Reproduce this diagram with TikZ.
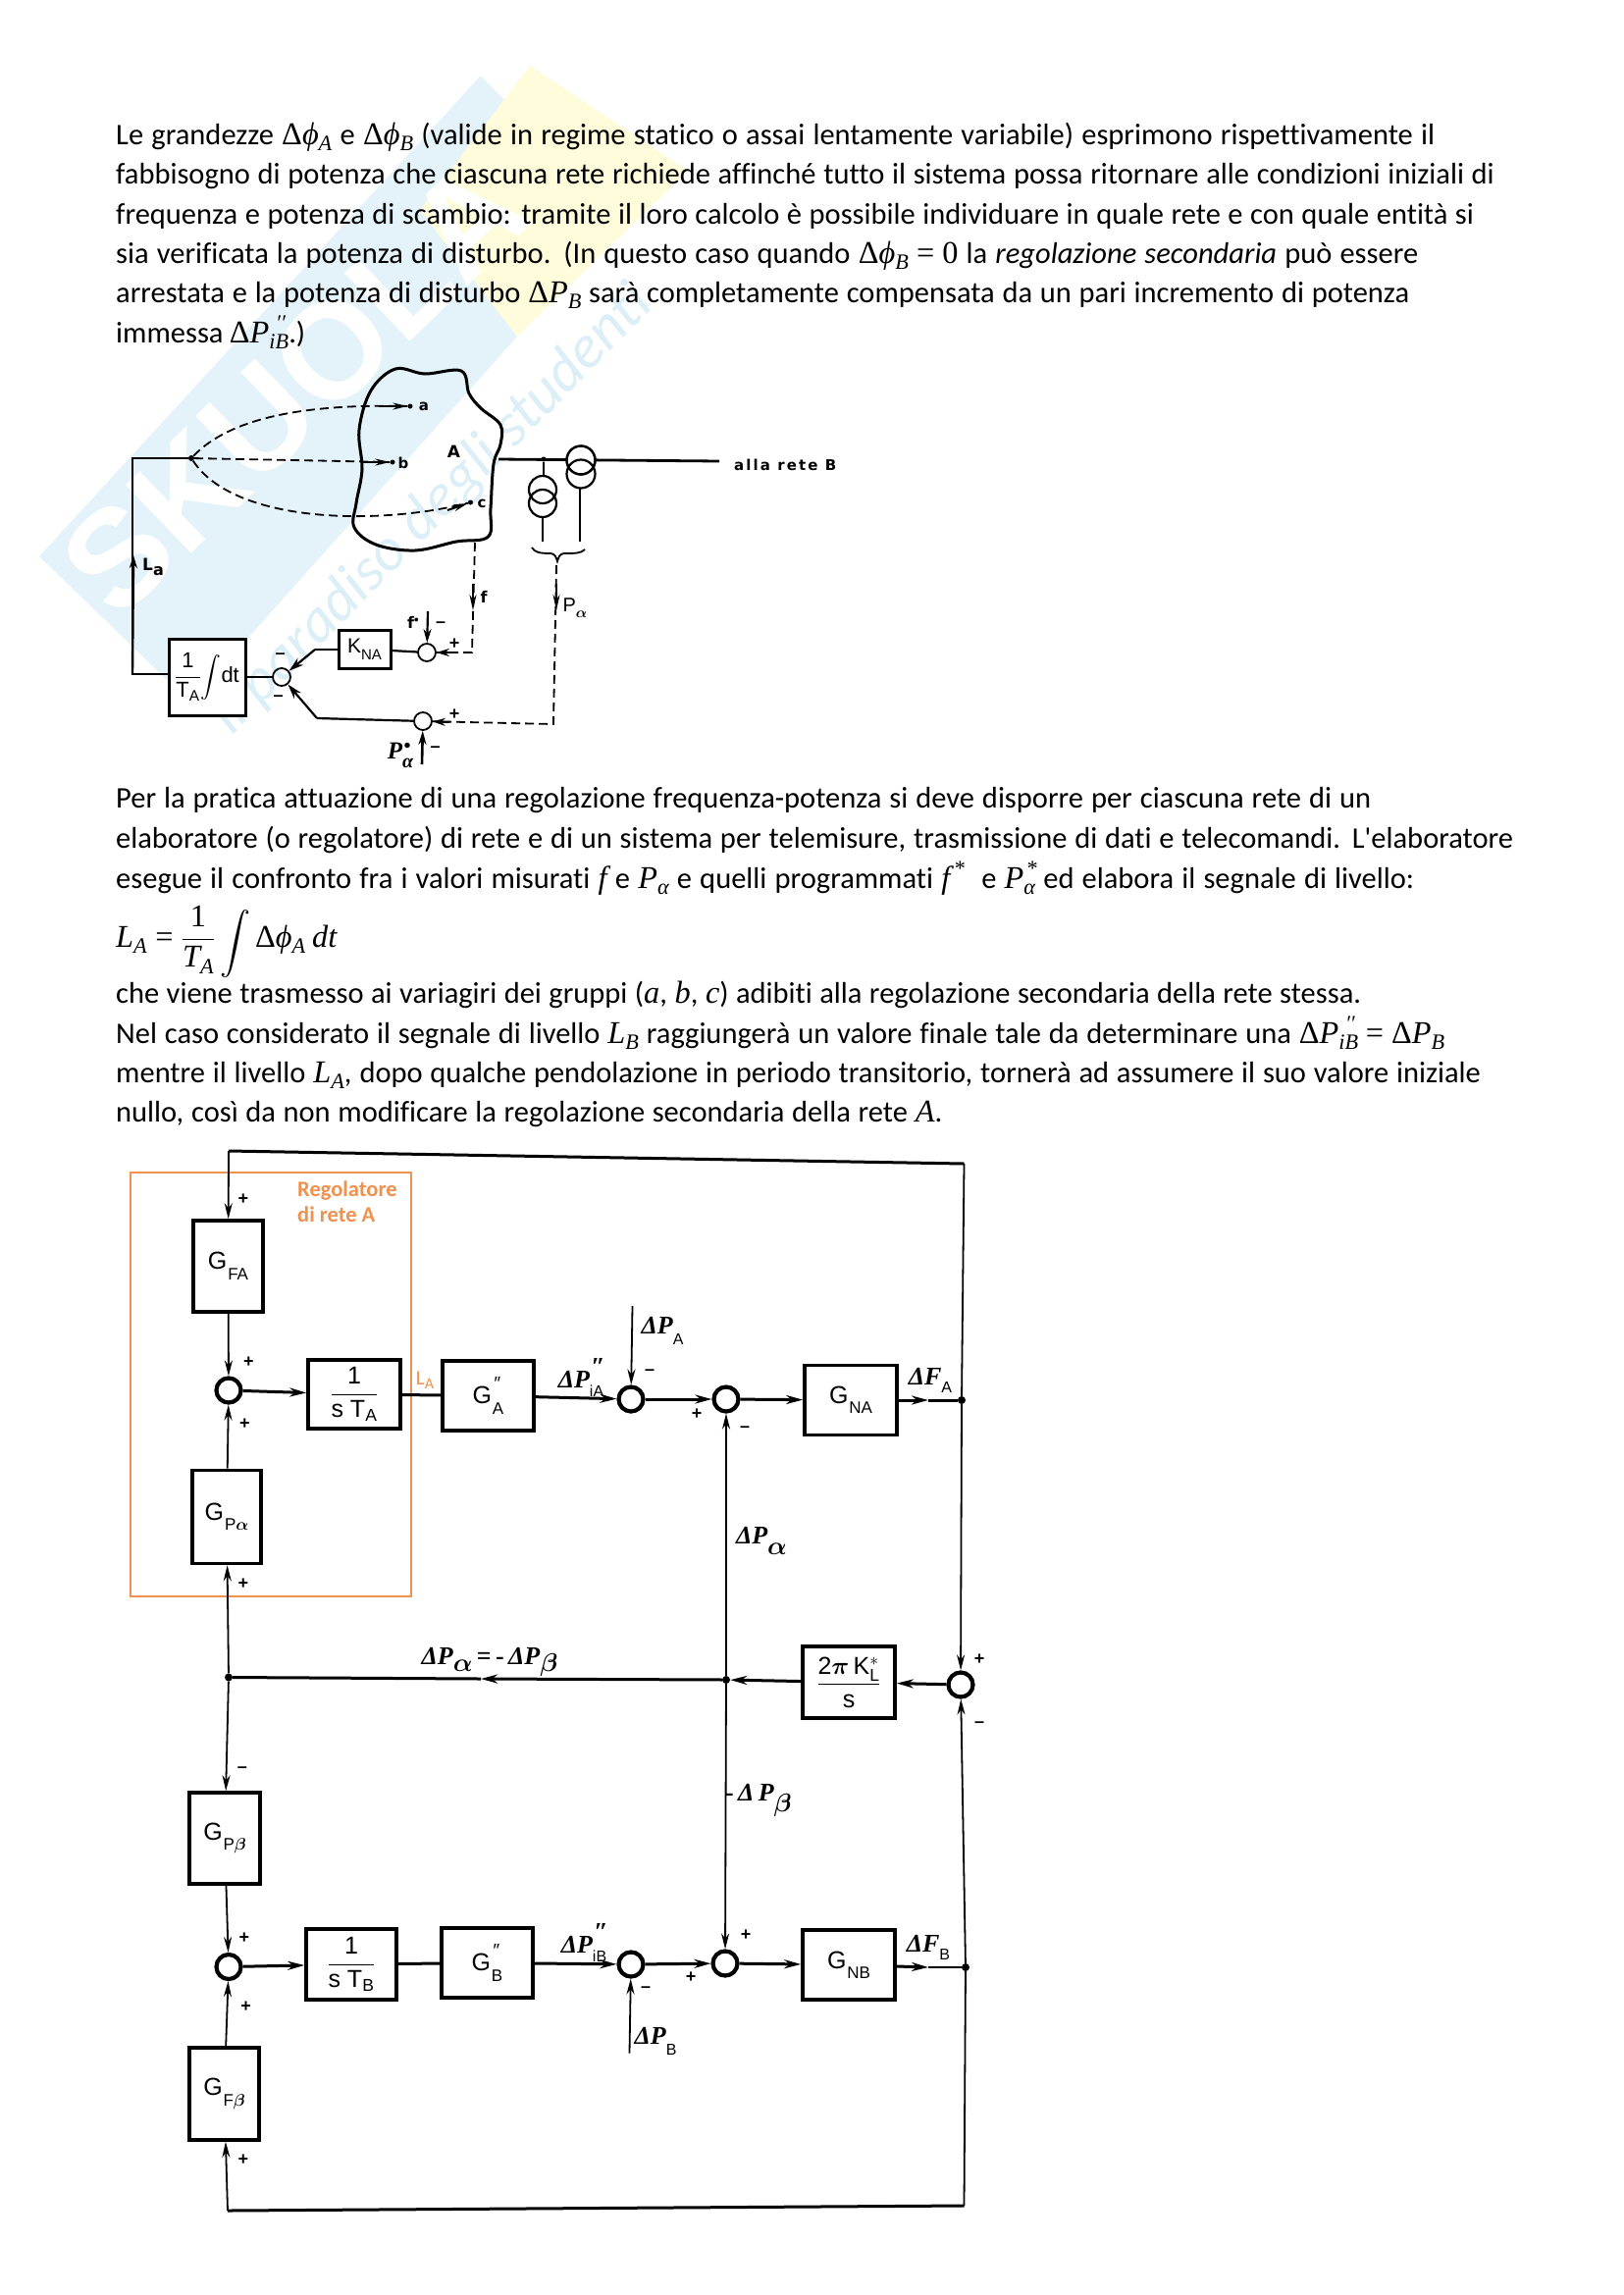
\documentclass[tikz,border=0pt]{standalone}
\usepackage{fix-cm}
\usepackage{amsmath}
\usepackage{graphicx}
\usepackage{fontspec}
\setmainfont{Carlito}[Ligatures={NoCommon,TeXOff}]
\setsansfont{Liberation Sans}
\newfontfamily\dgA{DejaVu Sans}
\newfontfamily\dsB{Liberation Serif}
\newfontfamily\mf{Liberation Serif}[Scale=1.06]
\usetikzlibrary{arrows.meta,calc}
\definecolor{wmblue}{HTML}{E3F3F9}
\definecolor{wmtext}{HTML}{DCEFF7}
\definecolor{wmyellow}{HTML}{FFFCDC}
\definecolor{orng}{HTML}{F0914F}
\newcommand{\bl}[2]{\makebox[#1pt][s]{#2}}
\newcommand{\mi}[1]{{\mf\itshape #1}}
\newcommand{\sbs}[1]{\raisebox{-.22em}{\fontsize{21}{21}\selectfont\mf\itshape #1}}
\newcommand{\Dt}{{\mf Δ}}
\newcommand{\Dphi}[1]{\Dt\mi{ϕ}\sbs{#1}}
\newcommand{\DPb}[1]{\Dt\mi{P}\sbs{#1}}
\newcommand{\DPpp}{\Dt\mi{P}\rlap{\raisebox{.42em}{\fontsize{21}{21}\selectfont\mf\itshape\hspace{.3em}′′}}\sbs{iB}}
\newcommand{\Pal}[1]{\mi{P}\rlap{\raisebox{.42em}{\fontsize{21}{21}\selectfont\mf\itshape\hspace{.1em}#1}}\sbs{α}}
\newcommand{\dP}[2]{{\dsB\bfseries\itshape #1}\raisebox{-.42em}{\fontsize{16}{16}\selectfont\sffamily #2}}
\newcommand{\dPpp}[2]{{\dsB\bfseries\itshape #1}\rlap{\raisebox{.5em}{\dsB\bfseries\itshape\hspace{.05em}″}}\raisebox{-.38em}{\fontsize{16}{16}\selectfont\sffamily #2}}
\newcommand{\gb}[1]{G\raisebox{-.42em}{\fontsize{17}{17}\selectfont\hspace{.05em}#1}}
\newcommand{\gpp}[1]{G\rlap{\raisebox{.55em}{\fontsize{19}{19}\selectfont\hspace{.08em}\itshape″}}\raisebox{-.42em}{\fontsize{17}{17}\selectfont\hspace{.05em}#1}}
\tikzset{
  x=1pt,y=-1pt,
  txt/.style={anchor=base west,inner sep=0pt,font=\fontsize{30.5}{40}\selectfont},
  bx/.style={draw,line width=3.6pt,fill=white,inner sep=0pt,font=\sffamily\fontsize{25}{27}\selectfont},
  smallbx/.style={draw,line width=3pt,fill=white,inner sep=0pt,font=\sffamily\fontsize{22}{24}\selectfont},
  sumc/.style={draw,circle,line width=4.2pt,minimum size=25pt,inner sep=0pt,fill=white},
  smalls/.style={draw,circle,line width=1.8pt,minimum size=18pt,inner sep=0pt},
  jd/.style={fill,circle,inner sep=0pt,minimum size=8pt},
  ln/.style={line width=1.8pt},
  hv/.style={line width=3pt},
  ar/.style={line width=1.8pt,-{Stealth[length=16pt,width=8pt]}},
  arh/.style={line width=3pt,-{Stealth[length=17pt,width=9pt]}},
  dsh/.style={line width=1.8pt,dash pattern=on 9pt off 5pt},
  sgn/.style={inner sep=0pt,font=\bfseries\sffamily\fontsize{18}{18}\selectfont},
  lab/.style={inner sep=0pt,font=\fontsize{26}{28}\selectfont},
  labA/.style={inner sep=0pt,font=\dgA\bfseries\fontsize{15}{18}\selectfont},
}
\begin{document}
\begin{tikzpicture}
\useasboundingbox (0,0) rectangle (1654,2339);
\fill[white] (0,0) rectangle (1654,2339);
% watermark
\fill[wmblue] (40,567) -- (490,77) -- (565,155) -- (527,343) -- (194,716) -- cycle;
\fill[wmyellow] (540,67) -- (701,174) -- (527,343) -- (428,214) -- cycle;
\node[rotate=44,text=white,inner sep=0pt,font=\sffamily\bfseries\fontsize{140}{140}\selectfont] (wm1) at (300,395) {SKUOLA};
\node[rotate=45.5,text=wmtext,inner sep=0pt,font=\itshape\fontsize{62}{62}\selectfont] (wm2) at (440,520) {il paradiso degli studenti};
% text
\node[txt] (t1) at (118,147) {\bl{1344}{Le grandezze \Dphi{A} e \Dphi{B} (valide in regime statico o assai lentamente variabile) esprimono rispettivamente il}};
\node[txt] (t2) at (118,187) {\bl{1405}{fabbisogno di potenza che ciascuna rete richiede affinché tutto il sistema possa ritornare alle condizioni iniziali di}};
\node[txt] (t3) at (118,228) {\bl{1384}{frequenza e potenza di scambio: tramite il loro calcolo è possibile individuare in quale rete e con quale entità si}};
\node[txt] (t4) at (118,268) {\bl{1327}{sia verificata la potenza di disturbo. (In questo caso quando \Dphi{B} {\mf =} {\mf 0} la \textit{regolazione secondaria} può essere}};
\node[txt] (t5) at (118,308) {\bl{1318}{arrestata e la potenza di disturbo \DPb{B} sarà completamente compensata da un pari incremento di potenza}};
\node[txt] (t6) at (118,349) {\bl{193}{immessa \DPpp.)}};
\node[txt] (t7) at (118,823) {\bl{1279}{Per la pratica attuazione di una regolazione frequenza-potenza si deve disporre per ciascuna rete di un}};
\node[txt] (t8) at (118,864) {\bl{1424}{elaboratore (o regolatore) di rete e di un sistema per telemisure, trasmissione di dati e telecomandi. L'elaboratore}};
\node[txt] (t9) at (118,905) {\bl{1323}{esegue il confronto fra i valori misurati \mi{f} e \mi{P}\sbs{α} e quelli programmati \mi{f}\raisebox{.42em}{\fontsize{21}{21}\selectfont\mf\hspace{.2em}*} \ e \Pal{*} ed elabora il segnale di livello:}};
\node[txt] (t10) at (118,965) {$\mbox{\mi{L}\sbs{A}}\;\mbox{\mf =}\;\dfrac{\mbox{\mf 1}}{\mbox{\mi{T}\sbs{A}}}\,\raisebox{-.22em}{\scalebox{1.25}{$\displaystyle\int$}}\,\mbox{\Dphi{A} \mi{dt}}$};
\node[txt] (t11) at (118,1022) {\bl{1269}{che viene trasmesso ai variagiri dei gruppi (\mi{a}, \mi{b}, \mi{c}) adibiti alla regolazione secondaria della rete stessa.}};
\node[txt] (t12) at (118,1063) {\bl{1354}{Nel caso considerato il segnale di livello \mi{L}\sbs{B} raggiungerà un valore finale tale da determinare una \DPpp\ {\mf =} \DPb{B}}};
\node[txt] (t13) at (118,1103) {\bl{1391}{mentre il livello \mi{L}\sbs{A}, dopo qualche pendolazione in periodo transitorio, tornerà ad assumere il suo valore iniziale}};
\node[txt] (t14) at (118,1143) {\bl{842}{nullo, così da non modificare la regolazione secondaria della rete \mi{A}.}};
% ---- diagram 1
\draw[line width=3pt,line join=round] plot[smooth cycle,tension=.6] coordinates {(403,376)(433,381)(470,378)(478,401)(490,416)(510,433)(510,453)(503,473)(500,518)(497.5,547)(465,552)(423,561)(383,555)(361,537.5)(363,513)(369,478)(366,438)(378,398)};
\node[smallbx,minimum width=78pt,minimum height=78pt] (tab) at (211,690) {$\displaystyle\frac{\mathsf{1}}{\mathsf{T}_{\mathsf{A}}}\!\int\!\mathsf{dt}$};
\node[smallbx,minimum width=53pt,minimum height=39pt,font=\sffamily\fontsize{21}{22}\selectfont] (kna) at (371.5,661.5) {K\raisebox{-.35em}{\fontsize{15}{15}\selectfont NA}};
\node[smalls] (cs) at (287,690) {};
\node[smalls] (cf) at (435,665) {};
\node[smalls] (cp) at (431,735) {};
\node[jd,minimum size=6pt] (dD) at (195,467) {};
\node[jd,minimum size=5pt] (da) at (418,414) {};
\node[jd,minimum size=5pt] (db) at (400,471) {};
\node[jd,minimum size=5pt] (dc) at (479.5,512) {};
\node[jd,minimum size=5pt] (dT) at (554,468) {};
\coordinate (cL1) at (135,687);
\coordinate (cL2) at (135,467);
\coordinate (cLa) at (136,566);
\coordinate (bxE) at (508,468);
\coordinate (bxF) at (733,470);
\draw[line width=2.4pt] (tab.west |- 0,687) -- (cL1) -- (cL2) -- (dD);
\draw[line width=2.4pt,-{Stealth[length=13pt,width=8pt]}] (cL1) -- (cLa);
\draw[dsh] (dD) .. controls (240,420) and (330,412) .. (da);
\draw[dsh] (dD) -- (db);
\draw[dsh] (dD) .. controls (240,535) and (390,535) .. (dc);
\draw[line width=2pt,-{Stealth[length=15pt,width=7pt]}] (386,414) -- (da);
\draw[line width=2pt,-{Stealth[length=15pt,width=7pt]}] (370,471) -- (db);
\draw[line width=2pt,-{Stealth[length=15pt,width=7pt]}] (456,520) -- (dc);
\node[labA] (la) at (432,414) {a};
\node[labA] (lb) at (411,472) {b};
\node[labA] (lc) at (491,513) {c};
\node[labA,font=\dgA\bfseries\fontsize{17}{20}\selectfont] (lA) at (462.5,460) {A};
\draw[line width=2.8pt] (bxE) -- (bxF);
\node[labA,anchor=west,font=\dgA\bfseries\fontsize{15}{18}\selectfont] (lB) at (748,474) {\addfontfeature{LetterSpace=14}alla rete B};
% transformers
\coordinate (t1a) at (553,499); \coordinate (t1b) at (553,513);
\coordinate (t2a) at (592,469); \coordinate (t2b) at (592,483);
\draw[line width=2.2pt] (t1a) circle[radius=14pt] (t1b) circle[radius=14pt];
\draw[line width=2.2pt,fill=white] (t2a) circle[radius=14.5pt];
\draw[line width=2.2pt] (t2a) circle[radius=14.5pt] (t2b) circle[radius=14.5pt];
\coordinate (t1t) at (554,485); \coordinate (t1d) at (553,527); \coordinate (t1e) at (553,552);
\coordinate (t2d) at (591,497); \coordinate (t2e) at (591,552);
\draw[line width=2pt] (dT) -- (t1t) (t1d) -- (t1e) (t2d) -- (t2e);
\draw[line width=1.8pt] (542,558) .. controls (545,563) and (550,564) .. (561,564) .. controls (565,564) and (567,568) .. (568,572) .. controls (569,568) and (571,564) .. (575,564) .. controls (586,564) and (592,564) .. (596,560);
% dashed signals
\coordinate (fT) at (484,553); \coordinate (fC) at (481,665); \coordinate (fM) at (482,622);
\coordinate (pT) at (567,576); \coordinate (pC) at (564,738); \coordinate (pM) at (567,622);
\draw[dsh] (fT) -- (fC) -- (cf);
\draw[dsh] (pT) -- (pC) -- (cp);
\draw[line width=2.2pt,-{Stealth[length=16pt,width=7pt]}] (482,595) -- (fM);
\draw[line width=2.2pt,-{Stealth[length=16pt,width=7pt]}] (567,595) -- (pM);
\draw[line width=2pt,-{Stealth[length=13pt,width=8pt]}] (462,665) -- (cf);
\draw[line width=2pt,-{Stealth[length=13pt,width=8pt]}] (458,736) -- (cp);
\node[labA,font=\dgA\bfseries\fontsize{16}{18}\selectfont] (lf) at (493,608) {f};
\node[labA,font=\sffamily\fontsize{20}{22}\selectfont] (lp) at (586,620) {P\raisebox{-.3em}{\fontsize{15}{15}\selectfont$\boldsymbol{\alpha}$}};
\draw[line width=2.2pt] (cf) -- (kna);
\draw[line width=2.4pt] (tab) -- (cs);
\coordinate (kk) at (321,662); \coordinate (pp) at (323,732);
\draw[line width=2.2pt] (kna.west |- kk) -- (kk);
\draw[line width=2.2pt,-{Stealth[length=15pt,width=9pt]}] (kk) -- (cs);
\draw[line width=2.2pt] (cp) -- (pp);
\draw[line width=2.2pt,-{Stealth[length=15pt,width=9pt]}] (pp) -- (cs);
\coordinate (fs) at (436,623); \coordinate (ps) at (430,779);
\draw[line width=2.2pt,-{Stealth[length=14pt,width=8pt]}] (fs) -- (cf);
\draw[line width=2.6pt,-{Stealth[length=14pt,width=8pt]}] (ps) -- (cp);
\node[labA,font=\dgA\bfseries\fontsize{16}{18}\selectfont] (lfs) at (421,634) {f\raisebox{.35em}{\fontsize{10}{10}\selectfont$\bullet$}};
\node[inner sep=0pt,font=\dsB\bfseries\itshape\fontsize{25}{25}\selectfont] (lps) at (408,770) {P\rlap{\raisebox{.4em}{\fontsize{14}{14}\selectfont\hspace{.1em}$\bullet$}}\raisebox{-.35em}{\fontsize{20}{20}\selectfont α}};
\node[sgn] (s1) at (449,637) {–};
\node[sgn] (s2) at (463,656) {+};
\node[sgn] (s3) at (443.5,764) {–};
\node[sgn] (s4) at (463,728) {+};
\node[sgn] (s5) at (285.6,669) {–};
\node[sgn] (s6) at (283.6,712) {–};
\node[labA,font=\dgA\bfseries\fontsize{17}{20}\selectfont] (lLa) at (156,578) {L\raisebox{-.3em}{\fontsize{16}{16}\selectfont a}};
% ---- diagram 2
\coordinate (TL) at (233,1173);
\coordinate (TR) at (982.5,1186);
\coordinate (BR) at (982.5,2248);
\coordinate (BL) at (232,2253);
\draw[orng,line width=2.2pt] (133,1195) rectangle (419,1627);
\node[inner sep=0pt,anchor=base west,text=orng,font=\bfseries\fontsize{22.5}{23}\selectfont] (reg1) at (303,1219) {Regolatore};
\node[inner sep=0pt,anchor=base west,text=orng,font=\bfseries\fontsize{22.5}{23}\selectfont] (reg2) at (303,1245) {di rete A};
\node[inner sep=0pt,text=orng,font=\fontsize{21}{21}\selectfont] (regL) at (433,1407) {L\raisebox{-.2em}{\fontsize{16}{16}\selectfont A}};
\node[bx,minimum width=71pt,minimum height=93pt] (GFA) at (232.5,1290.5) {\gb{FA}};
\node[bx,minimum width=70pt,minimum height=95pt] (GPa) at (231,1546) {\gb{P$\boldsymbol{\alpha}$}};
\node[bx,minimum width=94pt,minimum height=70pt] (sTA) at (361,1421) {$\dfrac{\mathsf{1}}{\mathsf{s\;T}_{\mathsf{A}}}$};
\node[bx,minimum width=93pt,minimum height=71pt] (GA) at (497.5,1422.5) {\gpp{A}};
\node[bx,minimum width=94pt,minimum height=71pt] (GNA) at (867,1427) {\gb{NA}};
\node[bx,minimum width=94pt,minimum height=73pt] (KL) at (865,1714.5) {$\dfrac{\mathsf{2}\boldsymbol{\pi}\,\mathsf{K}_{\mathsf{L}}^{*}}{\mathsf{s}}$};
\node[bx,minimum width=72pt,minimum height=93pt] (GPb) at (229,1873.5) {\gb{P$\boldsymbol{\beta}$}};
\node[bx,minimum width=92pt,minimum height=72pt] (sTB) at (358,2002) {$\dfrac{\mathsf{1}}{\mathsf{s\;T}_{\mathsf{B}}}$};
\node[bx,minimum width=93pt,minimum height=71pt] (GB) at (496.5,2000.5) {\gpp{B}};
\node[bx,minimum width=94pt,minimum height=71pt] (GNB) at (865,2002.5) {\gb{NB}};
\node[bx,minimum width=71pt,minimum height=94pt] (GFb) at (228.5,2134) {\gb{F$\boldsymbol{\beta}$}};
\node[sumc] (s1a) at (233,1417) {};
\node[sumc] (sPA) at (643,1426) {};
\node[sumc] (s2a) at (740,1426) {};
\node[sumc] (sR) at (979,1717) {};
\node[sumc] (s1b) at (233,2004.5) {};
\node[sumc] (sPB) at (643,2002) {};
\node[sumc] (s2b) at (739,2001) {};
\node[jd] (dFA) at (980,1427) {};
\node[jd] (dFB) at (984,2005) {};
\node[jd] (jL) at (233,1709.5) {};
\node[jd] (jM) at (740,1712) {};
\coordinate (mFA) at (946,1427);
\coordinate (mFB) at (946,2005);
\coordinate (mLM) at (490,1711);
\coordinate (inA) at (644.5,1331);
\coordinate (inB) at (641.5,2092.5);
% connectors
\draw[hv] (TL) -- (TR);
\draw[ln] (dFA) -- (TR);
\draw[hv] (BR) -- (BL);
\draw[ln] (dFB) -- (BR);
\draw[ar] (TL) -- (GFA);
\draw[ar] (GFA) -- (s1a);
\draw[ar] (GPa) -- (s1a);
\draw[arh] (s1a) -- (sTA);
\draw[hv] (sTA) -- (GA);
\draw[arh] (GA) -- (sPA);
\draw[ar] (inA) -- (sPA);
\draw[arh] (sPA) -- (s2a);
\draw[arh] (s2a) -- (GNA);
\draw[arh] (GNA) -- (mFA);
\draw[hv] (mFA) -- (dFA);
\draw[ar] (dFA) -- (sR);
\draw[ar] (dFB) -- (sR);
\draw[arh] (sR) -- (KL);
\draw[arh] (KL) -- (jM);
\draw[arh] (jM) -- (mLM);
\draw[hv] (mLM) -- (jL);
\draw[ar] (jL) -- (GPa);
\draw[ar] (jL) -- (GPb);
\draw[ar] (jM) -- (s2a);
\draw[ar] (jM) -- (s2b);
\draw[ar] (GPb) -- (s1b);
\draw[ar] (GFb) -- (s1b);
\draw[ar] (BL) -- (GFb);
\draw[arh] (s1b) -- (sTB);
\draw[hv] (sTB) -- (GB);
\draw[arh] (GB) -- (sPB);
\draw[ar] (inB) -- (sPB);
\draw[arh] (sPB) -- (s2b);
\draw[arh] (s2b) -- (GNB);
\draw[arh] (GNB) -- (mFB);
\draw[ln] (mFB) -- (dFB);
% labels
\node[sgn] (p1) at (248,1222.5) {+};
\node[sgn] (p2) at (253.5,1388.5) {+};
\node[sgn] (p3) at (249.5,1451) {+};
\node[sgn] (p4) at (248,1614.5) {+};
\node[sgn] (p5) at (662,1398.5) {–};
\node[sgn] (p6) at (710,1441) {+};
\node[sgn] (p7) at (759,1457) {–};
\node[sgn] (p8) at (998,1691) {+};
\node[sgn] (p9) at (998,1758) {–};
\node[sgn] (p10) at (247,1804) {–};
\node[sgn] (p11) at (249,1975) {+};
\node[sgn] (p12) at (250.6,2045.5) {+};
\node[sgn] (p13) at (248,2201.6) {+};
\node[sgn] (p14) at (658,2028) {–};
\node[sgn] (p15) at (704,2015.6) {+};
\node[sgn] (p16) at (760,1972) {+};
\node[lab] (lPA) at (675,1356) {\dP{ΔP}{A}};
\node[lab] (lPiA) at (592,1404) {\dPpp{ΔP}{iA}};
\node[lab] (lFA) at (948,1407) {{\dsB\bfseries\itshape ΔF}\raisebox{-.28em}{\fontsize{16}{16}\selectfont\sffamily A}};
\node[lab] (lPal) at (776,1570) {{\dsB\bfseries\itshape ΔP}\raisebox{-.42em}{$\boldsymbol{\alpha}$}};
\node[lab] (lEq) at (499,1694) {{\dsB\bfseries\itshape ΔP}\raisebox{-.3em}{$\boldsymbol{\alpha}$}{\dsB\bfseries\,=\,-\,\itshape ΔP}\raisebox{-.3em}{$\boldsymbol{\beta}$}};
\node[lab] (lPbe) at (773,1835) {{\dsB\bfseries -\,\itshape Δ\,P}\raisebox{-.42em}{$\boldsymbol{\beta}$}};
\node[lab] (lPiB) at (595,1980) {\dPpp{ΔP}{iB}};
\node[lab] (lPB) at (668,2080) {\dP{ΔP}{B}};
\node[lab] (lFB) at (946,1985) {{\dsB\bfseries\itshape ΔF}\raisebox{-.28em}{\fontsize{16}{16}\selectfont\sffamily B}};
\end{tikzpicture}
\end{document}
